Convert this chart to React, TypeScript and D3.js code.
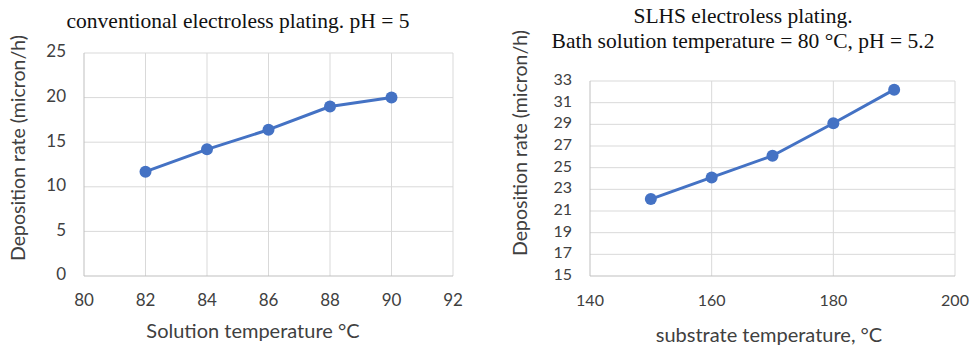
import * as d3 from "d3";
import { useEffect, useRef } from "react";

// chart data
const convTemps = [82, 84, 86, 88, 90];
const convRates = [11.7, 14.2, 16.4, 19.0, 20.0];
const convXTicks = [80, 82, 84, 86, 88, 90, 92];
const convYTicks = [0, 5, 10, 15, 20, 25];

const slhsTemps = [150, 160, 170, 180, 190];
const slhsRates = [22.1, 24.1, 26.1, 29.1, 32.2];
const slhsXTicks = [140, 160, 180, 200];
const slhsYTicks = [15, 17, 19, 21, 23, 25, 27, 29, 31, 33];

const width = 971;
const height = 345;
const blue = "#4472C4";
const gridColor = "#d9d9d9";
const sans = "Lato, sans-serif";
const serif = "Liberation Serif, DejaVu Serif, serif";

type Panel = {
  xs: number[];
  ys: number[];
  xTicks: number[];
  yTicks: number[];
  left: number;
  right: number;
  top: number;
  bottom: number;
  titles: { text: string; x: number; y: number }[];
  xTitle: { text: string; x: number; y: number };
  yTitle: { text: string; x: number; y: number };
  tickSize: number;
  xTickY: number;
  yTickX: number;
};

const panels: Panel[] = [
  {
    xs: convTemps,
    ys: convRates,
    xTicks: convXTicks,
    yTicks: convYTicks,
    left: 84,
    right: 453,
    top: 53,
    bottom: 276,
    titles: [{ text: "conventional electroless plating. pH = 5", x: 238, y: 23 }],
    xTitle: { text: "Solution temperature °C", x: 253, y: 333 },
    yTitle: { text: "Deposition rate (micron/h)", x: 20, y: 148 },
    tickSize: 17,
    xTickY: 302,
    yTickX: 66,
  },
  {
    xs: slhsTemps,
    ys: slhsRates,
    xTicks: slhsXTicks,
    yTicks: slhsYTicks,
    left: 590,
    right: 955,
    top: 81,
    bottom: 276,
    titles: [
      { text: "SLHS electroless plating.", x: 743, y: 18 },
      { text: "Bath solution temperature = 80 °C, pH = 5.2", x: 743, y: 43 },
    ],
    xTitle: { text: "substrate temperature, °C", x: 769, y: 337 },
    yTitle: { text: "Deposition rate (micron/h)", x: 522, y: 143 },
    tickSize: 16,
    xTickY: 302,
    yTickX: 572,
  },
];

const App = () => {
  const ref = useRef<SVGSVGElement | null>(null);

  useEffect(() => {
    const svg = d3.select(ref.current);
    svg.selectAll("*").remove();

    panels.forEach((p) => {
      const x = d3
        .scaleLinear()
        .domain([p.xTicks[0], p.xTicks[p.xTicks.length - 1]])
        .range([p.left, p.right]);
      const y = d3
        .scaleLinear()
        .domain([p.yTicks[0], p.yTicks[p.yTicks.length - 1]])
        .range([p.bottom, p.top]);

      const g = svg.append("g");

      // horizontal grid
      g.selectAll(".hgrid")
        .data(p.yTicks.slice(1))
        .join("line")
        .attr("x1", p.left)
        .attr("x2", p.right)
        .attr("y1", (d) => y(d))
        .attr("y2", (d) => y(d))
        .attr("stroke", gridColor)
        .attr("stroke-width", 1);

      // vertical grid
      g.selectAll(".vgrid")
        .data(p.xTicks.slice(1))
        .join("line")
        .attr("x1", (d) => x(d))
        .attr("x2", (d) => x(d))
        .attr("y1", p.top)
        .attr("y2", p.bottom)
        .attr("stroke", gridColor)
        .attr("stroke-width", 1);

      // axis lines
      g.append("line")
        .attr("x1", p.left)
        .attr("x2", p.left)
        .attr("y1", p.top)
        .attr("y2", p.bottom)
        .attr("stroke", "#bfbfbf");
      g.append("line")
        .attr("x1", p.left)
        .attr("x2", p.right)
        .attr("y1", p.bottom)
        .attr("y2", p.bottom)
        .attr("stroke", "#bfbfbf");

      // tick labels
      g.selectAll(".xt")
        .data(p.xTicks)
        .join("text")
        .attr("x", (d) => x(d))
        .attr("y", p.xTickY)
        .attr("text-anchor", "middle")
        .attr("dominant-baseline", "middle")
        .style("font-family", sans)
        .attr("font-size", p.tickSize)
        .attr("fill", "#404040")
        .text((d) => d);
      g.selectAll(".yt")
        .data(p.yTicks)
        .join("text")
        .attr("x", p.yTickX)
        .attr("y", (d) => y(d))
        .attr("text-anchor", "end")
        .attr("dominant-baseline", "middle")
        .style("font-family", sans)
        .attr("font-size", p.tickSize)
        .attr("fill", "#404040")
        .text((d) => d);

      // series
      const pts = p.xs.map((v, i) => [v, p.ys[i]] as [number, number]);
      const line = d3
        .line<[number, number]>()
        .x((d) => x(d[0]))
        .y((d) => y(d[1]));
      g.append("path")
        .attr("d", line(pts))
        .attr("fill", "none")
        .attr("stroke", blue)
        .attr("stroke-width", 3)
        .attr("stroke-linejoin", "round");
      g.selectAll(".pt")
        .data(pts)
        .join("circle")
        .attr("cx", (d) => x(d[0]))
        .attr("cy", (d) => y(d[1]))
        .attr("r", 6)
        .attr("fill", blue);

      // titles
      p.titles.forEach((t) => {
        g.append("text")
          .attr("x", t.x)
          .attr("y", t.y)
          .attr("text-anchor", "middle")
          .attr("dominant-baseline", "middle")
          .style("font-family", serif)
          .attr("font-size", 21.5)
          .attr("fill", "#111")
          .text(t.text);
      });
      g.append("text")
        .attr("x", p.xTitle.x)
        .attr("y", p.xTitle.y)
        .attr("text-anchor", "middle")
        .attr("dominant-baseline", "middle")
        .style("font-family", sans)
        .attr("font-size", 20)
        .attr("fill", "#404040")
        .text(p.xTitle.text);
      g.append("text")
        .attr("transform", `translate(${p.yTitle.x},${p.yTitle.y}) rotate(-90)`)
        .attr("text-anchor", "middle")
        .attr("dominant-baseline", "middle")
        .style("font-family", sans)
        .attr("font-size", 19.5)
        .attr("fill", "#404040")
        .text(p.yTitle.text);
    });
  }, []);

  return (
    <svg
      ref={ref}
      width={width}
      height={height}
      style={{ position: "absolute", left: 0, top: 0, background: "#fff" }}
    />
  );
};

export default App;
